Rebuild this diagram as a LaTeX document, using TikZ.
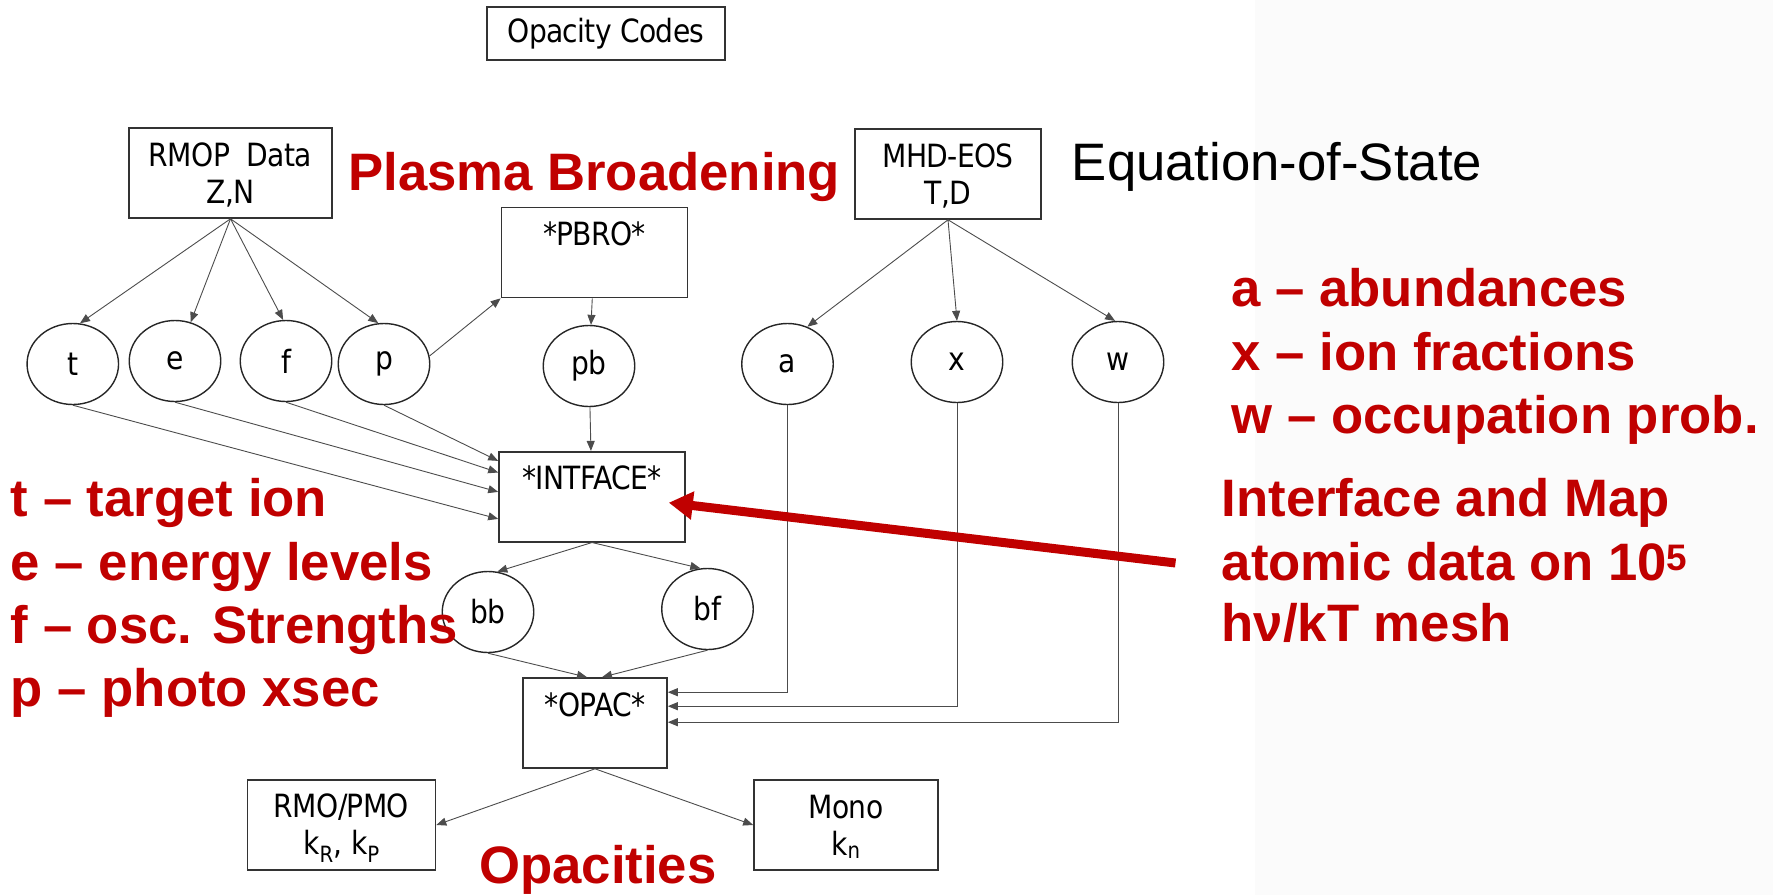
\documentclass[tikz,border=0pt]{standalone}
\usepackage{fontspec}
\setmainfont{Liberation Sans}
\newfontfamily\diagfont[FakeStretch=0.88, LetterSpace=-2]{DejaVu Sans}
\usetikzlibrary{shapes.geometric, arrows.meta, positioning, calc}
\definecolor{slidered}{HTML}{C00000}
\newcommand{\boxstrut}{\rule[-7pt]{0pt}{37pt}}

\begin{document}
\begin{tikzpicture}[
  x=1pt, y=-1pt,
  codebox/.style={rectangle, draw=black!80, line width=1.6pt, inner sep=0pt, align=center, font=\diagfont\fontsize{32}{37}\selectfont},
  varnode/.style={ellipse, draw=black!85, line width=1.4pt, minimum width=91.5pt, minimum height=81pt, inner sep=0pt, font=\diagfont\fontsize{32}{37}\selectfont},
  flow/.style={draw=black!70, line width=0.9pt, -{Triangle[length=10pt, width=8pt]}},
  redlabel/.style={anchor=base west, inner sep=0pt, font=\bfseries\fontsize{52.7}{63}\selectfont, text=slidered},
  blacklabel/.style={anchor=base west, inner sep=0pt, font=\fontsize{52.7}{63}\selectfont}
]
\useasboundingbox (0,0) rectangle (1773,895);
\fill[black!1.5] (1255,0) rectangle (1773,895);

% code boxes
\node[codebox, minimum width=238pt, minimum height=53pt] (codes) at (606,33.7) {Opacity Codes};
\node[codebox, minimum width=203pt, minimum height=90pt] (rmop) at (230.5,173) {\boxstrut RMOP\ \ Data\\\boxstrut Z,N};
\node[codebox, minimum width=186pt, minimum height=90pt] (mhd) at (948,174) {\boxstrut MHD-EOS\\\boxstrut T,D};
\node[codebox, minimum width=186pt, minimum height=90pt] (pbro) at (594.5,252.5) {\boxstrut *PBRO*\\\boxstrut};
\node[codebox, minimum width=186pt, minimum height=90pt] (intface) at (592,496.7) {\boxstrut *INTFACE*\\\boxstrut};
\node[codebox, minimum width=144pt, minimum height=90pt] (opac) at (595,723) {\boxstrut *OPAC*\\\boxstrut};
\node[codebox, minimum width=188pt, minimum height=90pt] (rmo) at (341.5,825) {\boxstrut RMO/PMO\\\boxstrut k\textsubscript{R}, k\textsubscript{P}};
\node[codebox, minimum width=184pt, minimum height=90pt] (mono) at (846,825) {\boxstrut Mono\\\boxstrut k\textsubscript{n}};

% data circles
\node[varnode] (vt) at (72.8,364) {t};
\node[varnode] (ve) at (175,361) {e};
\node[varnode] (vf) at (286,361) {f};
\node[varnode] (vp) at (384,364) {p};
\node[varnode] (vpb) at (589,366) {pb};
\node[varnode] (va) at (787.5,364) {a};
\node[varnode] (vx) at (957,362) {x};
\node[varnode] (vw) at (1118,362) {w};
\node[varnode] (vbb) at (488,612) {bb};
\node[varnode] (vbf) at (707.5,609) {bf};

% slide labels
\node[redlabel] (plasma) at (348,190) {Plasma Broadening};
\node[blacklabel] (eos) at (1071.7,180) {Equation-of-State};
\node[redlabel] (opacities) at (479,883) {Opacities};
\node[redlabel] (keya) at (1231.4,306.7) {a – abundances};
\node[redlabel] (keyx) at (1231.4,370) {x – ion fractions};
\node[redlabel] (keyw) at (1231.4,433.3) {w – occupation prob.};
\node[redlabel] (map1) at (1221.5,516.7) {Interface and Map};
\node[redlabel] (map2) at (1221.5,580) {atomic data on 10\textsuperscript{5}};
\node[redlabel] (map3) at (1221.5,641.7) {hν/kT mesh};
\node[redlabel] (keyt) at (10.7,516.7) {t – target ion};
\node[redlabel] (keye) at (10.7,580) {e – energy levels};
\node[redlabel] (keyf) at (10.7,643.3) {f – osc. Strengths};
\node[redlabel] (keyp) at (10.7,706.7) {p – photo xsec};

% connectors
\draw[flow] (rmop.south) -- (vt.80);
\draw[flow] (rmop.south) -- (ve.68);
\draw[flow] (rmop.south) -- (vf.94);
\draw[flow] (rmop.south) -- (vp.98);
\draw[flow] (vp.10) -- (pbro.south west);
\draw[flow] (pbro) -- (vpb);
\draw[flow] (vpb) -- (intface);
\draw[flow] (vt.south) -- ([yshift=-68pt]intface.north west);
\draw[flow] (ve.south) -- ([yshift=-41pt]intface.north west);
\draw[flow] (vf.south) -- ([yshift=-21.6pt]intface.north west);
\draw[flow] (vp.south) -- ([yshift=-10pt]intface.north west);
\draw[flow] (mhd.south) -- (va.62);
\draw[flow] (mhd.south) -- (vx.90);
\draw[flow] (mhd.south) -- (vw.94);
\draw[flow] (intface.south) -- (vbb.77);
\draw[flow] (intface.south) -- (vbf.100);
\draw[flow] (vbb.south) -- ([xshift=-8pt]opac.north);
\draw[flow] (vbf.south) -- ([xshift=7pt]opac.north);
\draw[flow] (va.south) |- ([yshift=-15pt]opac.north east);
\draw[flow] (vx.south) |- ([yshift=-29pt]opac.north east);
\draw[flow] (vw.south) |- ([yshift=-45pt]opac.north east);
\draw[flow] (opac.south) -- (rmo.east);
\draw[flow] (opac.south) -- (mono.west);

% big red pointer
\coordinate (maptail) at (1175.5,563);
\draw[draw=slidered, line width=9pt, -{Triangle[length=24pt, width=27pt]}] (maptail) -- ([xshift=-17pt, yshift=-6pt]intface.east);
\end{tikzpicture}
\end{document}
